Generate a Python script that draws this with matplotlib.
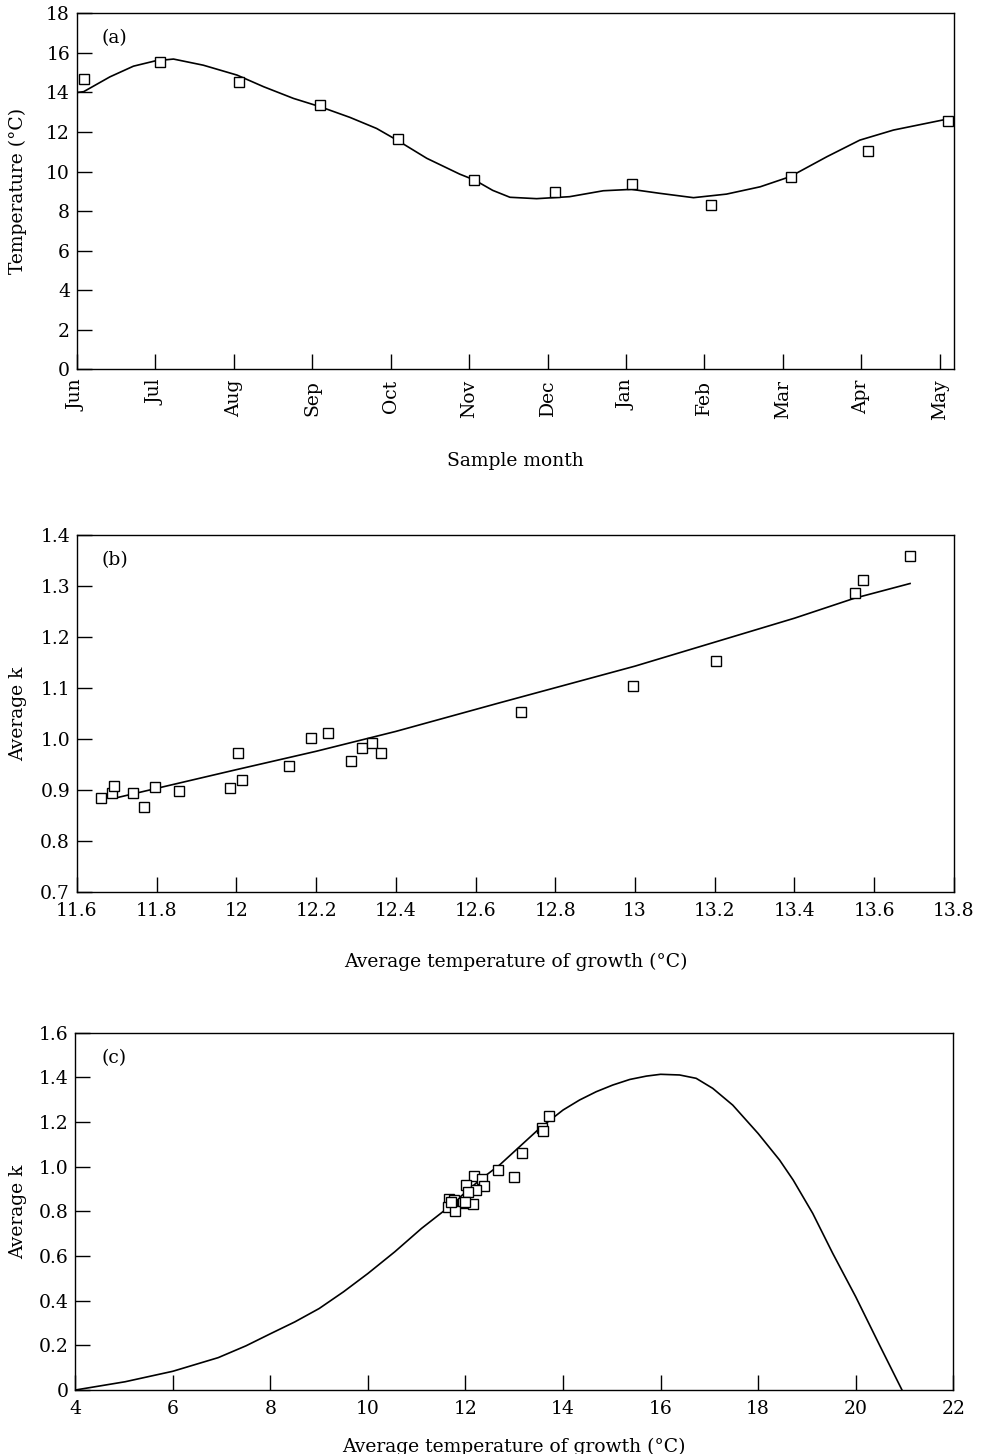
import numpy as np
import matplotlib
matplotlib.use("Agg")
import matplotlib.pyplot as plt

plt.rcParams['font.family'] = ['DejaVu Serif']
plt.rcParams['font.size'] = 13.5

# (a) monthly temperature
months = ['Jun', 'Jul', 'Aug', 'Sep', 'Oct', 'Nov', 'Dec', 'Jan', 'Feb', 'Mar', 'Apr', 'May']
temp_x = [0.09, 1.06, 2.07, 3.10, 4.09, 5.06, 6.10, 7.07, 8.08, 9.10, 10.09, 11.10]
temp_y = [14.69, 15.54, 14.54, 13.35, 11.63, 9.57, 8.95, 9.37, 8.32, 9.74, 11.05, 12.57]
fit_a_x = [0.0, 0.085, 0.42, 0.72, 1.0, 1.23, 1.61, 2.04, 2.38, 2.76, 3.10, 3.48, 3.82,
           4.08, 4.46, 4.88, 5.07, 5.30, 5.52, 5.86, 6.28, 6.71, 7.07, 7.43, 7.86,
           8.28, 8.71, 9.09, 9.56, 9.98, 10.41, 11.09]
fit_a_y = [14.0, 14.04, 14.79, 15.33, 15.60, 15.69, 15.38, 14.88, 14.29, 13.70, 13.28,
           12.74, 12.18, 11.59, 10.67, 9.87, 9.57, 9.05, 8.70, 8.63, 8.73, 9.03, 9.10,
           8.90, 8.68, 8.86, 9.23, 9.74, 10.75, 11.59, 12.10, 12.65]

# (b) average k vs average temperature
b_temp = [11.66, 11.688, 11.692, 11.74, 11.768, 11.795, 11.855, 11.983, 12.003, 12.014,
          12.132, 12.186, 12.231, 12.287, 12.316, 12.339, 12.362, 12.714, 12.996, 13.204,
          13.551, 13.571, 13.691]
b_k = [0.885, 0.895, 0.908, 0.894, 0.867, 0.905, 0.899, 0.904, 0.972, 0.920,
       0.947, 1.003, 1.011, 0.957, 0.982, 0.992, 0.972, 1.054, 1.105, 1.153,
       1.286, 1.311, 1.359]
fit_b_x = [11.70, 12.00, 12.20, 12.40, 12.66, 13.00, 13.20, 13.40, 13.55, 13.69]
fit_b_y = [0.885, 0.940, 0.976, 1.015, 1.071, 1.143, 1.190, 1.237, 1.276, 1.305]

# (c) average k vs temperature, full model range
c_temp = [13.71, 13.56, 13.58, 13.15, 12.67, 12.99, 12.18, 12.34, 12.01, 12.38, 12.22,
          12.06, 11.66, 11.76, 11.73, 11.94, 12.16, 11.65, 11.78, 11.70, 12.00]
c_k = [1.227, 1.172, 1.160, 1.063, 0.984, 0.955, 0.960, 0.945, 0.918, 0.915, 0.896,
       0.887, 0.854, 0.850, 0.833, 0.837, 0.834, 0.821, 0.803, 0.840, 0.840]
fit_c_x = [4.0, 5.02, 6.0, 6.93, 7.5, 8.0, 8.5, 9.0, 9.5, 10.0, 10.55, 11.10, 11.58, 12.29,
           12.70, 13.11, 13.52, 14.0, 14.34, 14.68, 15.02, 15.37, 15.71, 16.0, 16.39,
           16.73, 17.07, 17.48, 18.0, 18.44, 18.72, 19.12, 19.53, 20.0, 20.49, 20.95]
fit_c_y = [0.0, 0.037, 0.084, 0.145, 0.198, 0.252, 0.305, 0.365, 0.44, 0.522, 0.619, 0.724,
           0.806, 0.940, 1.008, 1.090, 1.172, 1.254, 1.299, 1.336, 1.366, 1.391, 1.406,
           1.414, 1.411, 1.396, 1.351, 1.276, 1.149, 1.030, 0.940, 0.791, 0.612, 0.418,
           0.201, 0.0]

fig = plt.figure(figsize=(9.92, 14.54), dpi=100)
ax_a = fig.add_axes([0.0776, 0.746, 0.884, 0.2448])
ax_b = fig.add_axes([0.0776, 0.3865, 0.884, 0.2455])
ax_c = fig.add_axes([0.0759, 0.044, 0.885, 0.2457])

mk = dict(marker='s', ms=7, mfc='white', mec='black', mew=1.0, ls='none', zorder=3)


def style(ax):
    ax.tick_params(direction='in', length=10.5, width=1, top=False, right=False, pad=5)
    ax.tick_params(axis='x', pad=7.5)
    for s in ax.spines.values():
        s.set_linewidth(1)


# panel a
ax_a.plot(fit_a_x, fit_a_y, color='black', lw=1.2)
ax_a.plot(temp_x, temp_y, **mk)
ax_a.set_xlim(0, 11.18)
ax_a.set_ylim(0, 18)
ax_a.set_xticks(range(len(months)))
ax_a.set_xticklabels(months, rotation=90)
ax_a.set_yticks(range(0, 19, 2))
style(ax_a)
ax_a.set_ylabel('Temperature (°C)')
ax_a.yaxis.set_label_coords(-0.057, 0.5)
ax_a.set_xlabel('Sample month')
ax_a.xaxis.set_label_coords(0.5, -0.232)
ax_a.text(0.028, 0.93, '(a)', transform=ax_a.transAxes, va='center')

# panel b
ax_b.plot(fit_b_x, fit_b_y, color='black', lw=1.2)
ax_b.plot(b_temp, b_k, **mk)
ax_b.set_xlim(11.6, 13.8)
ax_b.set_ylim(0.7, 1.4)
b_xt = [11.6, 11.8, 12.0, 12.2, 12.4, 12.6, 12.8, 13.0, 13.2, 13.4, 13.6, 13.8]
ax_b.set_xticks(b_xt)
ax_b.set_xticklabels(['11.6', '11.8', '12', '12.2', '12.4', '12.6', '12.8', '13',
                      '13.2', '13.4', '13.6', '13.8'])
b_yt = [0.7, 0.8, 0.9, 1.0, 1.1, 1.2, 1.3, 1.4]
ax_b.set_yticks(b_yt)
ax_b.set_yticklabels(['%.1f' % v for v in b_yt])
style(ax_b)
ax_b.set_ylabel('Average k')
ax_b.yaxis.set_label_coords(-0.057, 0.5)
ax_b.set_xlabel('Average temperature of growth (°C)')
ax_b.xaxis.set_label_coords(0.5, -0.171)
ax_b.text(0.028, 0.93, '(b)', transform=ax_b.transAxes, va='center')

# panel c
ax_c.plot(fit_c_x, fit_c_y, color='black', lw=1.2)
ax_c.plot(c_temp, c_k, **mk)
ax_c.set_xlim(4, 22)
ax_c.set_ylim(0, 1.6)
ax_c.set_xticks(range(4, 23, 2))
c_yt = [0, 0.2, 0.4, 0.6, 0.8, 1.0, 1.2, 1.4, 1.6]
ax_c.set_yticks(c_yt)
ax_c.set_yticklabels(['0'] + ['%.1f' % v for v in c_yt[1:]])
style(ax_c)
ax_c.set_ylabel('Average k')
ax_c.yaxis.set_label_coords(-0.055, 0.5)
ax_c.set_xlabel('Average temperature of growth (°C)')
ax_c.xaxis.set_label_coords(0.5, -0.134)
ax_c.text(0.03, 0.93, '(c)', transform=ax_c.transAxes, va='center')

fig.savefig('out.png', dpi=100)
